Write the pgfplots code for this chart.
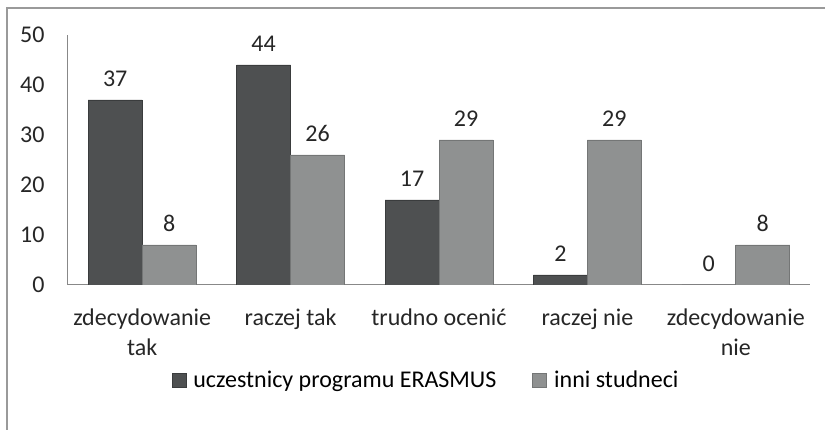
\documentclass[border=0pt]{standalone}
\usepackage{pgfplots}
\pgfplotsset{compat=1.18}
\usepackage{fontspec}
\setmainfont{Carlito}
\definecolor{darkbar}{HTML}{4E5051}
\definecolor{darkside}{HTML}{3A3C3D}
\definecolor{lightbar}{HTML}{8F9191}
\definecolor{lightside}{HTML}{747676}
\definecolor{framegray}{HTML}{9A9A9A}
\definecolor{axisgray}{HTML}{888888}
\begin{document}
\begin{tikzpicture}
\useasboundingbox (0pt,0pt) rectangle (825pt,430pt);
\draw[color=framegray, line width=1.5pt] (7pt,-5pt) -- (7pt,422pt) -- (830pt,422pt);
\begin{axis}[
  at={(68pt,145pt)}, anchor=south west,
  scale only axis, width=742pt, height=250pt,
  ybar=0pt, bar width=54pt,
  xmin=-0.5, xmax=4.5, ymin=0, ymax=50,
  ytick={0,10,20,30,40,50},
  xtick={0,1,2,3,4},
  xticklabels={{zdecydowanie\\tak},{raczej tak},{trudno oceni\'c},{raczej nie},{zdecydowanie\\nie}},
  axis lines*=left,
  axis line style={color=axisgray, line width=1pt, -},
  major tick length=0pt,
  /pgf/number format/assume math mode=true,
  tick label style={font=\fontsize{24}{30}\selectfont, text=black!85},
  xticklabel style={align=center, yshift=-20pt},
  yticklabel style={anchor=east, xshift=-20pt},
  nodes near coords,
  every node near coord/.append style={font=\fontsize{24}{30}\selectfont, text=black!85, yshift=10pt},
  legend style={at={(axis description cs:0.4825,-0.38)}, anchor=center, draw=none,
    font=\fontsize{24}{30}\selectfont, legend columns=2,
    /tikz/every even column/.append style={column sep=34pt}},
  legend cell align=left,
  legend image code/.code={\draw[#1] (0pt,-7pt) rectangle (14pt,7pt); \path (19pt,0pt);},
]
\addplot[draw=darkside, line width=0.8pt, fill=darkbar] coordinates {(0,37) (1,44) (2,17) (3,2) (4,0)};
\addplot[draw=lightside, line width=0.8pt, fill=lightbar] coordinates {(0,8) (1,26) (2,29) (3,29) (4,8)};
\legend{uczestnicy programu ERASMUS, inni studneci}
\end{axis}
\end{tikzpicture}
\end{document}
